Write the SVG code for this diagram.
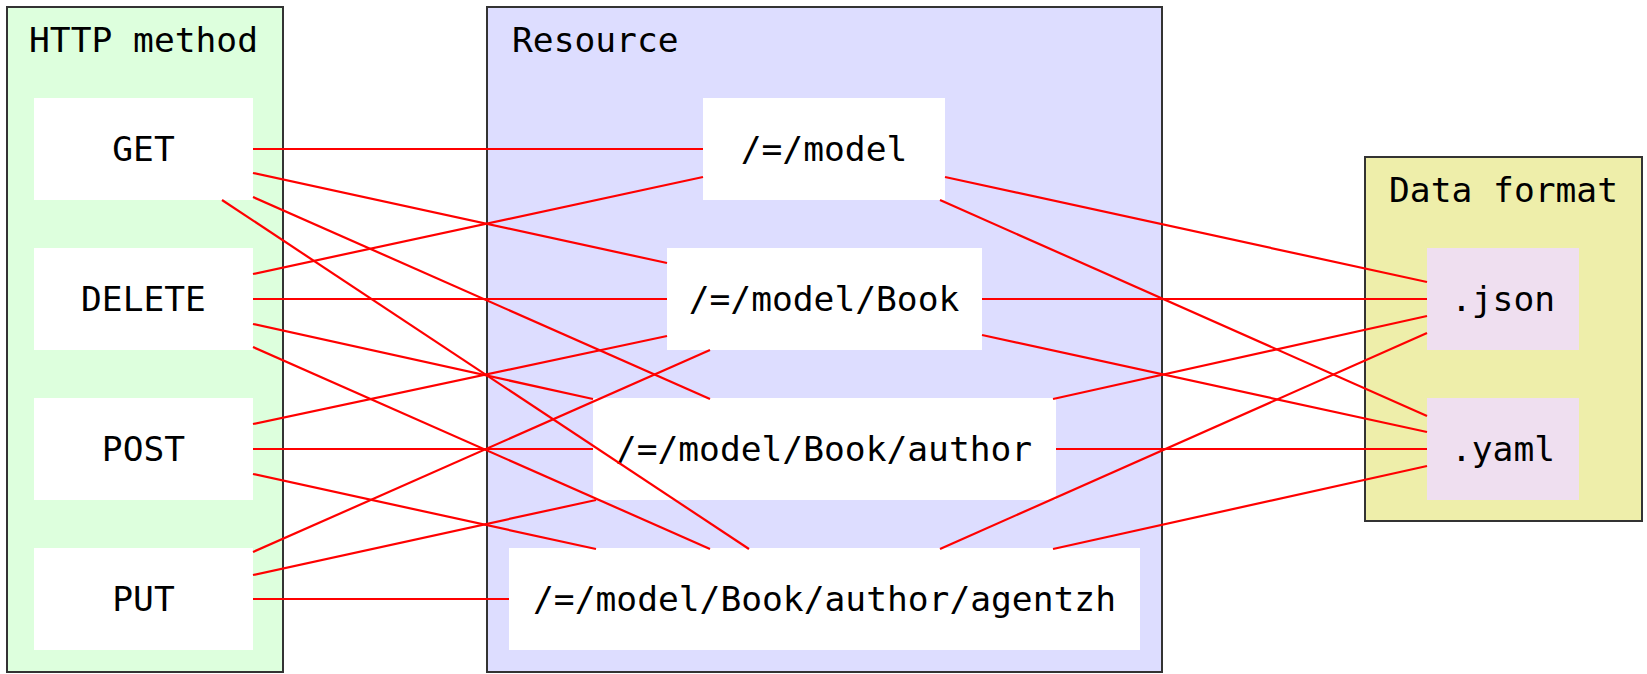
<svg xmlns="http://www.w3.org/2000/svg" width="1647" height="674" viewBox="0 0 1647 674">
<style>
.cl{stroke:#333;stroke-width:2}
.nd{fill:#fff;stroke:none}
.fmt{fill:#efdff0;stroke:none}
text{font-family:"DejaVu Sans Mono","Liberation Mono",monospace;font-size:34.6px;fill:#000}
.c{text-anchor:middle}
#edges line{stroke:#ff0000;stroke-width:2.2}
</style>
<rect width="1647" height="674" fill="#fff"/>
<g id="cluster-http">
<rect class="cl" x="7" y="7" width="276" height="665" fill="#ddffdd"/>
<text x="29" y="52">HTTP method</text>
</g>
<g id="cluster-resource">
<rect class="cl" x="487" y="7" width="675" height="665" fill="#ddddff"/>
<text x="512" y="52">Resource</text>
</g>
<g id="cluster-format">
<rect class="cl" x="1365" y="157" width="277" height="364" fill="#eeeeaa"/>
<text x="1389" y="202">Data format</text>
</g>
<g id="node-get"><rect class="nd" x="34" y="98" width="219" height="102"/><text class="c" x="143.5" y="161">GET</text></g>
<g id="node-delete"><rect class="nd" x="34" y="248" width="219" height="102"/><text class="c" x="143.5" y="311">DELETE</text></g>
<g id="node-post"><rect class="nd" x="34" y="398" width="219" height="102"/><text class="c" x="143.5" y="461">POST</text></g>
<g id="node-put"><rect class="nd" x="34" y="548" width="219" height="102"/><text class="c" x="143.5" y="611">PUT</text></g>
<g id="node-model"><rect class="nd" x="703" y="98" width="242" height="102"/><text class="c" x="824" y="161">/=/model</text></g>
<g id="node-book"><rect class="nd" x="667" y="248" width="315" height="102"/><text class="c" x="824" y="311">/=/model/Book</text></g>
<g id="node-author"><rect class="nd" x="593" y="398" width="463" height="102"/><text class="c" x="824" y="461">/=/model/Book/author</text></g>
<g id="node-agentzh"><rect class="nd" x="509" y="548" width="631" height="102"/><text class="c" x="824.5" y="611">/=/model/Book/author/agentzh</text></g>
<g id="node-json"><rect class="fmt" x="1427" y="248" width="152" height="102"/><text class="c" x="1503" y="311">.json</text></g>
<g id="node-yaml"><rect class="fmt" x="1427" y="398" width="152" height="102"/><text class="c" x="1503" y="461">.yaml</text></g>
<g id="edges">
<line x1="253" y1="149" x2="703" y2="149"/>
<line x1="253" y1="173" x2="667" y2="263"/>
<line x1="253" y1="197" x2="710" y2="399"/>
<line x1="222" y1="200" x2="749" y2="549"/>
<line x1="253" y1="274" x2="703" y2="177"/>
<line x1="253" y1="299" x2="667" y2="299"/>
<line x1="253" y1="324" x2="593" y2="399"/>
<line x1="253" y1="347" x2="710" y2="549"/>
<line x1="253" y1="424" x2="667" y2="336"/>
<line x1="253" y1="449" x2="593" y2="449"/>
<line x1="253" y1="474" x2="596" y2="549"/>
<line x1="253" y1="552" x2="710" y2="350"/>
<line x1="253" y1="575" x2="596" y2="500"/>
<line x1="253" y1="599" x2="509" y2="599"/>
<line x1="945" y1="177" x2="1427" y2="282"/>
<line x1="940" y1="200" x2="1427" y2="416"/>
<line x1="982" y1="299" x2="1427" y2="299"/>
<line x1="982" y1="335" x2="1427" y2="432"/>
<line x1="1053" y1="399" x2="1427" y2="316"/>
<line x1="1056" y1="449" x2="1427" y2="449"/>
<line x1="940" y1="549" x2="1427" y2="333"/>
<line x1="1053" y1="549" x2="1427" y2="466"/>
</g>
</svg>
